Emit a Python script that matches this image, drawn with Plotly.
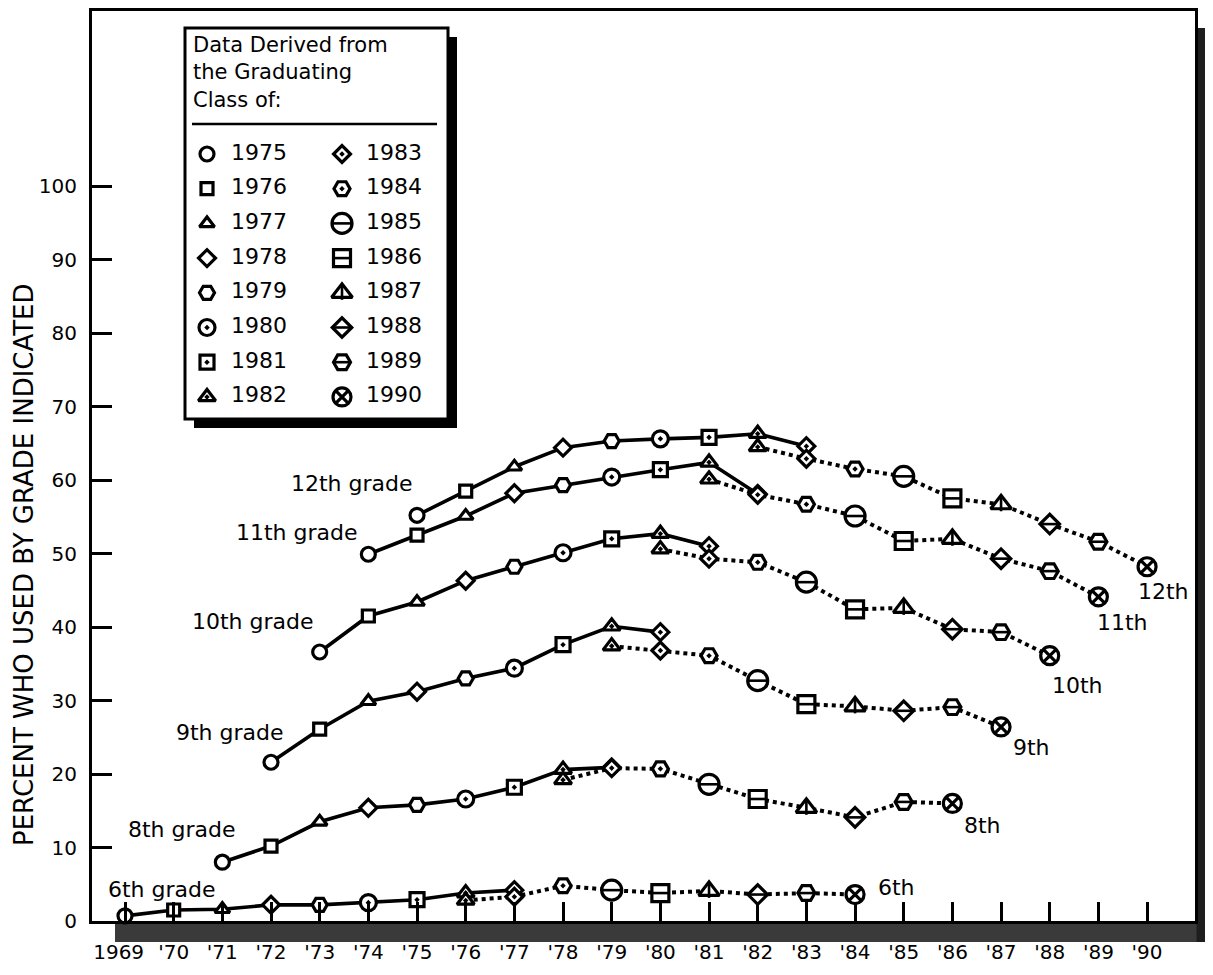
import plotly.graph_objects as go

# ---------------- data ----------------
classes = list(range(1975, 1991))
solid_classes = classes[:9]     # 1975-1983 (solid line)
dotted_classes = classes[7:]    # 1982-1990 (dotted line)

tick_years = list(range(1969, 1991))
tick_labels = ["1969\u00a0\u00a0"] + ["'" + str(y)[2:] for y in range(1970, 1991)]
y_ticks = list(range(0, 101, 10))

grade_nums = [6, 8, 9, 10, 11, 12]
grade_labels = ["6th grade", "8th grade", "9th grade", "10th grade", "11th grade", "12th grade"]
end_labels = ["6th", "8th", "9th", "10th", "11th", "12th"]

g6_solid = [0.7, 1.5, 1.6, 2.2, 2.2, 2.5, 2.9, 3.8, 4.2]
g6_dotted = [2.8, 3.3, 4.8, 4.2, 3.8, 4.1, 3.6, 3.8, 3.6]
g8_solid = [8.0, 10.2, 13.5, 15.4, 15.8, 16.6, 18.2, 20.6, 20.9]
g8_dotted = [19.2, 20.8, 20.7, 18.6, 16.6, 15.4, 14.1, 16.2, 16.0]
g9_solid = [21.6, 26.1, 29.9, 31.2, 33.0, 34.4, 37.6, 40.1, 39.3]
g9_dotted = [37.4, 36.8, 36.1, 32.7, 29.5, 29.2, 28.6, 29.1, 26.4]
g10_solid = [36.6, 41.5, 43.4, 46.3, 48.2, 50.1, 52.0, 52.7, 51.0]
g10_dotted = [50.6, 49.3, 48.8, 46.1, 42.4, 42.6, 39.7, 39.3, 36.1]
g11_solid = [49.9, 52.5, 55.1, 58.2, 59.3, 60.4, 61.4, 62.4, 58.1]
g11_dotted = [60.1, 58.0, 56.7, 55.1, 51.7, 52.0, 49.3, 47.6, 44.1]
g12_solid = [55.2, 58.5, 61.8, 64.4, 65.3, 65.6, 65.8, 66.3, 64.6]
g12_dotted = [64.5, 62.9, 61.5, 60.5, 57.5, 56.7, 54.0, 51.6, 48.2]

# ---------------- styles ----------------
FONT = "DejaVu Sans"
SYM = {1975: "circle", 1976: "square", 1977: "triangle-up", 1978: "diamond",
       1979: "hexagon2", 1980: "circle-dot", 1981: "square-dot", 1982: "triangle-up-dot",
       1983: "diamond-dot", 1984: "hexagon2-dot", 1985: "circle", 1986: "square",
       1987: "triangle-up", 1988: "diamond", 1989: "hexagon2", 1990: "circle-x"}
SIZE = {1975: 14, 1976: 12, 1977: 13, 1978: 13, 1979: 15, 1980: 16, 1981: 14, 1982: 15,
        1983: 13, 1984: 16, 1985: 20, 1986: 17, 1987: 18, 1988: 15, 1989: 17, 1990: 18}
OVER = {1985: ("line-ew", 14), 1986: ("line-ew", 12), 1987: ("line-ns", 10),
        1988: ("line-ew", 14), 1989: ("line-ew", 12)}
END_SHIFT = {6: (41, 7), 8: (30, -22), 9: (30, -21), 10: (28, -30), 11: (24, -26), 12: (16, -25)}
LABEL_POS = {6: (1969.76, 4.35), 8: (1970.17, 12.5), 9: (1971.16, 25.7),
             10: (1971.63, 40.7), 11: (1972.53, 52.9), 12: (1973.66, 59.5)}
LW = 3.2

series = [(6, g6_solid, g6_dotted), (8, g8_solid, g8_dotted), (9, g9_solid, g9_dotted),
          (10, g10_solid, g10_dotted), (11, g11_solid, g11_dotted), (12, g12_solid, g12_dotted)]

# page has an 8px body margin; the figure is sized so the page matches 1213x975
OFF = 8
W, H = 1213 - 2 * OFF, 975 - 2 * OFF
PLOT_L, PLOT_R, PLOT_T, PLOT_B = 92, 1195, 11, 921          # page pixels of the plot frame
ML, MT = PLOT_L - OFF, PLOT_T - OFF
MR, MB = W - (PLOT_R - OFF), H - (PLOT_B - OFF)
PW, PH = PLOT_R - PLOT_L, PLOT_B - PLOT_T
PX_PER_YEAR = 48.67
X0 = 1969 - (125 - PLOT_L) / PX_PER_YEAR
X1 = X0 + PW / PX_PER_YEAR
Y1 = PH / 7.35


def year_of(c, g):
    return c - (12 - g)


fig = go.Figure()

# lines
for g, sv, dv in series:
    fig.add_trace(go.Scatter(x=[year_of(c, g) for c in solid_classes], y=sv, mode="lines",
                             line=dict(color="black", width=3.6), hoverinfo="skip", showlegend=False))
    fig.add_trace(go.Scatter(x=[year_of(c, g) for c in dotted_classes], y=dv, mode="lines",
                             line=dict(color="black", width=4, dash="4px,4px"),
                             hoverinfo="skip", showlegend=False))

# markers
for g, sv, dv in series:
    for cl, vals in ((solid_classes, sv), (dotted_classes, dv)):
        fig.add_trace(go.Scatter(
            x=[year_of(c, g) for c in cl], y=vals, mode="markers", cliponaxis=False,
            marker=dict(symbol=[SYM[c] for c in cl], size=[SIZE[c] for c in cl], color="white",
                        opacity=1, line=dict(color="#000000", width=LW)),
            showlegend=False, hoverinfo="skip"))
        ov = [(c, v) for c, v in zip(cl, vals) if c in OVER]
        fig.add_trace(go.Scatter(
            x=[year_of(c, g) for c, _ in ov], y=[v for _, v in ov], mode="markers", cliponaxis=False,
            marker=dict(symbol=[OVER[c][0] for c, _ in ov], size=[OVER[c][1] for c, _ in ov],
                        color="black", opacity=1, line=dict(color="#000000", width=2.6)),
            showlegend=False, hoverinfo="skip"))

# grade labels
for g, lab in zip(grade_nums, grade_labels):
    lx, ly = LABEL_POS[g]
    fig.add_annotation(x=lx, y=ly, text=lab, showarrow=False, font=dict(family=FONT, size=22, color="black"))
for (g, sv, dv), lab in zip(series, end_labels):
    xs, ys = END_SHIFT[g]
    fig.add_annotation(x=year_of(dotted_classes[-1], g), y=dv[-1], text=lab, showarrow=False,
                       xshift=xs, yshift=ys, font=dict(family=FONT, size=22, color="black"))

# ---------------- legend panel (overlay axes in page pixels) ----------------
LX0, LDX, LY0, LDY = 207, 135, 154, 34.7
leg_x = [LX0 + (i // 8) * LDX for i in range(len(classes))]
leg_y = [LY0 + (i % 8) * LDY for i in range(len(classes))]
fig.add_trace(go.Scatter(x=leg_x, y=leg_y, xaxis="x2", yaxis="y2", mode="markers", cliponaxis=False,
                         marker=dict(symbol=[SYM[c] for c in classes], size=[SIZE[c] for c in classes],
                                     color="white", opacity=1, line=dict(color="#000000", width=LW)),
                         showlegend=False, hoverinfo="skip"))
ovi = [i for i, c in enumerate(classes) if c in OVER]
fig.add_trace(go.Scatter(x=[leg_x[i] for i in ovi], y=[leg_y[i] for i in ovi], xaxis="x2", yaxis="y2",
                         mode="markers", cliponaxis=False,
                         marker=dict(symbol=[OVER[classes[i]][0] for i in ovi],
                                     size=[OVER[classes[i]][1] for i in ovi],
                                     color="black", opacity=1, line=dict(color="#000000", width=2.6)),
                         showlegend=False, hoverinfo="skip"))
fig.add_trace(go.Scatter(x=[x + 24 for x in leg_x], y=leg_y, xaxis="x2", yaxis="y2", mode="text",
                         text=[str(c) for c in classes], textposition="middle right",
                         textfont=dict(family=FONT, size=22, color="black"),
                         showlegend=False, hoverinfo="skip"))
fig.add_annotation(x=191, y=72, xref="x2", yref="y2", text="Data Derived from<br>the Graduating<br>Class of:",
                   showarrow=False, xanchor="left", yanchor="middle", align="left",
                   font=dict(family=FONT, size=21, color="black"))

shapes = [
    dict(type="rect", xref="x2", yref="y2", x0=194, y0=37, x1=457, y1=428,
         fillcolor="black", line=dict(width=0), layer="below"),
    dict(type="rect", xref="x2", yref="y2", x0=185, y0=28, x1=448, y1=419,
         fillcolor="white", line=dict(color="black", width=3), layer="below"),
    dict(type="line", xref="x2", yref="y2", x0=192, y0=124, x1=437, y1=124,
         line=dict(color="black", width=2.5), layer="below"),
    # drop shadows of the frame (paper coordinates)
    dict(type="rect", xref="paper", yref="paper", x0=(115 - PLOT_L) / PW, x1=(1213 - PLOT_L) / PW,
         y0=-21 / PH, y1=-1.5 / PH, fillcolor="#3a3a3a", line=dict(width=0), layer="below"),
    dict(type="rect", xref="paper", yref="paper", x0=1 + 1.5 / PW, x1=(1213 - PLOT_L) / PW,
         y0=-21 / PH, y1=(PLOT_B - 28) / PH, fillcolor="#1e1e1e", line=dict(width=0), layer="below"),
]

fig.add_annotation(x=(24 - PLOT_L) / PW, y=(PLOT_B - 565) / PH, xref="paper", yref="paper",
                   xanchor="center", yanchor="middle",
                   text="PERCENT WHO USED BY GRADE INDICATED", textangle=-90, showarrow=False,
                   font=dict(family=FONT, size=26, color="black"))

fig.update_layout(
    width=W, height=H, margin=dict(l=ML, r=MR, t=MT, b=MB, pad=0, autoexpand=False),
    paper_bgcolor="white", plot_bgcolor="white", showlegend=False,
    shapes=shapes,
    xaxis=dict(range=[X0, X1], tickvals=tick_years, ticktext=tick_labels, ticks="inside",
               ticklen=19, tickwidth=3, tickcolor="black", showline=True, linewidth=3,
               linecolor="black", mirror=True, showgrid=False, zeroline=False, tickangle=0,
               automargin=False,
               tickfont=dict(family=FONT, size=20, color="black"), ticklabelstandoff=11),
    yaxis=dict(range=[0, Y1], tickvals=y_ticks, ticks="inside", ticklen=20, tickwidth=3,
               tickcolor="black", showline=True, linewidth=3, linecolor="black", mirror=True,
               showgrid=False, zeroline=False, automargin=False,
               tickfont=dict(family=FONT, size=20, color="black"), ticklabelstandoff=8),
    xaxis2=dict(overlaying="x", range=[PLOT_L, PLOT_R], visible=False),
    yaxis2=dict(overlaying="y", range=[PLOT_B, PLOT_T], visible=False),
)

fig.write_html("out.html")
